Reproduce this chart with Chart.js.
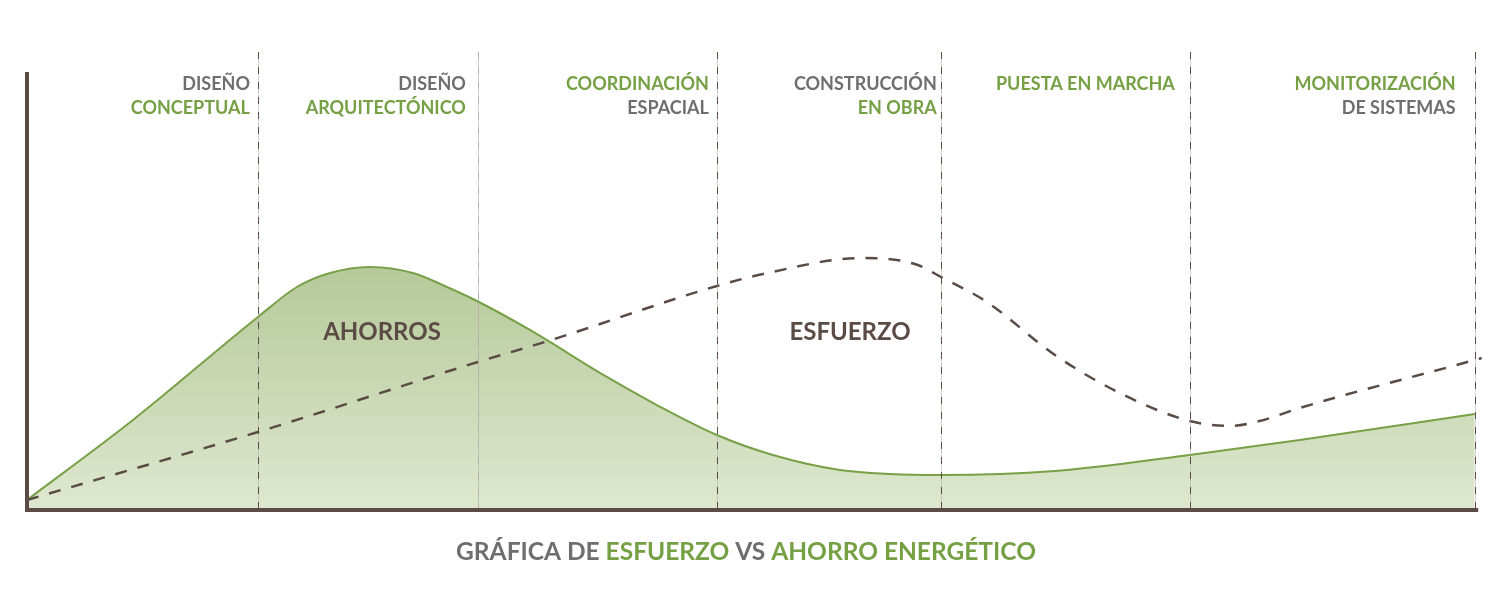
<!DOCTYPE html>
<html>
<head>
<meta charset="utf-8">
<script src="https://cdn.jsdelivr.net/npm/chart.js@4/dist/chart.umd.min.js"></script>
<style>
  html, body { margin: 0; padding: 0; background: #fff; }
  #wrap { width: 1494px; height: 600px; }
</style>
</head>
<body>
<div id="wrap"><canvas id="esfuerzoChart" width="1494" height="600"></canvas></div>
<script>
// Phase boundaries along the timeline (0-100) and their labels
const phaseEnds = [15.93, 31.1, 47.59, 63.03, 80.21, 99.86];
const phaseLine1 = ['DISEÑO', 'DISEÑO', 'COORDINACIÓN', 'CONSTRUCCIÓN', 'PUESTA EN MARCHA', 'MONITORIZACIÓN'];
const phaseLine2 = ['CONCEPTUAL', 'ARQUITECTÓNICO', 'ESPACIAL', 'EN OBRA', '', 'DE SISTEMAS'];

// Savings curve (green area)
const ahorroX = [0, 7.31, 15.93, 18.62, 20.90, 23.66, 26.62, 28.97, 31.17, 34.69, 40.0, 43.45, 47.59, 51.45, 56.07, 59.52, 63.03, 70.90, 80.21, 87.79, 99.86];
const ahorroY = [2.28, 20.55, 44.06, 50.91, 54.11, 55.48, 54.11, 50.91, 47.49, 41.10, 30.37, 23.97, 17.12, 12.56, 9.13, 8.22, 7.99, 8.90, 12.56, 15.98, 21.92];

// Effort curve (dashed)
const esfuerzoX = [0, 15.93, 31.10, 35.93, 47.59, 51.38, 57.52, 61.24, 63.17, 66.21, 70.90, 75.38, 80.21, 83.03, 85.03, 87.79, 99.86, 100.34];
const esfuerzoY = [2.28, 17.81, 33.79, 38.58, 51.14, 54.34, 57.53, 56.16, 52.97, 47.49, 35.39, 26.71, 20.32, 19.18, 20.32, 23.29, 34.25, 34.70];

const BROWN = '#5b4b45';
const GREEN = '#76a044';
const GREY = '#6e6e6e';
const FONT = 'Lato, "Open Sans", sans-serif';

function pts(xs, ys) {
    return xs.map((x, i) => ({ x: x, y: ys[i] }));
}

// Vertical phase lines, axes and all texts
const decorations = {
    id: 'decorations',
    afterDatasetsDraw(chart) {
        const c = chart.ctx;
        const xs = chart.scales.x;
        const area = chart.chartArea;
        c.save();
        phaseEnds.forEach((v, i) => {
            const px = Math.round(xs.getPixelForValue(v)) + 0.5;
            c.strokeStyle = 'rgba(160,160,160,0.45)';
            c.lineWidth = 1;
            c.setLineDash([]);
            c.beginPath(); c.moveTo(px, 52); c.lineTo(px, area.bottom); c.stroke();
            c.strokeStyle = i === 1 ? '#b5b0ad' : BROWN;
            c.setLineDash([7, 8]);
            c.beginPath(); c.moveTo(px, 52); c.lineTo(px, area.bottom); c.stroke();
        });
        c.setLineDash([]);

        // axes
        c.fillStyle = BROWN;
        c.fillRect(25, 72, 4, area.bottom - 72 + 2);
        c.fillRect(25, area.bottom - 2, xs.getPixelForValue(100.1) - 25, 4);

        // phase labels
        const gaps = [8, 12, 8, 4, 15, 19];
        const greenLine = [2, 2, 1, 2, 1, 1];
        c.font = 'bold 18px ' + FONT;
        c.textAlign = 'right';
        c.textBaseline = 'alphabetic';
        phaseEnds.forEach((v, i) => {
            const rx = xs.getPixelForValue(v) - gaps[i];
            c.fillStyle = greenLine[i] === 1 ? GREEN : GREY;
            c.fillText(phaseLine1[i], rx, 90);
            if (phaseLine2[i]) {
                c.fillStyle = greenLine[i] === 2 ? GREEN : GREY;
                c.fillText(phaseLine2[i], rx, 114);
            }
        });

        // curve names
        c.font = 'bold 24px ' + FONT;
        c.textAlign = 'center';
        c.textBaseline = 'middle';
        c.fillStyle = BROWN;
        c.fillText('AHORROS', 382, 332);
        c.fillText('ESFUERZO', 850, 332);

        // title with mixed colours
        const parts = [['GRÁFICA DE ', GREY], ['ESFUERZO', GREEN], [' VS ', GREY], ['AHORRO ENERGÉTICO', GREEN]];
        c.font = 'bold 24.5px ' + FONT;
        c.textAlign = 'left';
        const total = parts.reduce((s, p) => s + c.measureText(p[0]).width, 0);
        let tx = 746 - total / 2;
        parts.forEach(p => {
            c.fillStyle = p[1];
            c.fillText(p[0], tx, 552);
            tx += c.measureText(p[0]).width;
        });
        c.restore();
    }
};

const ctx = document.getElementById('esfuerzoChart').getContext('2d');
const esfuerzoChart = new Chart(ctx, {
    type: 'line',
    data: {
        datasets: [{
            label: 'Esfuerzo',
            data: pts(esfuerzoX, esfuerzoY),
            borderColor: BROWN,
            borderWidth: 2.5,
            borderDash: [12, 11],
            pointRadius: 0,
            fill: false,
            cubicInterpolationMode: 'monotone'
        }, {
            label: 'Ahorro',
            data: pts(ahorroX, ahorroY),
            borderColor: '#77a047',
            borderWidth: 2,
            pointRadius: 0,
            fill: 'origin',
            cubicInterpolationMode: 'monotone',
            backgroundColor: function (context) {
                const area = context.chart.chartArea;
                if (!area) return 'rgba(190,210,160,1)';
                const g = context.chart.ctx.createLinearGradient(0, 268, 0, area.bottom);
                g.addColorStop(0, '#b6c99a');
                g.addColorStop(1, '#dee8cf');
                return g;
            }
        }]
    },
    options: {
        responsive: false,
        animation: false,
        layout: { padding: { left: 27, right: 10, top: 72, bottom: 90 } },
        plugins: { legend: { display: false }, tooltip: { enabled: false } },
        scales: {
            x: { type: 'linear', min: 0, max: 100.5, display: false },
            y: { min: 0, max: 100, display: false }
        }
    },
    plugins: [decorations]
});
</script>
</body>
</html>
